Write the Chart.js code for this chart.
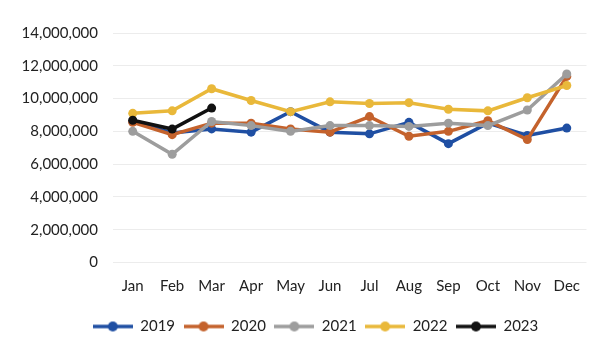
<!DOCTYPE html>
<html>
<head>
<meta charset="utf-8">
<script src="https://cdn.jsdelivr.net/npm/chart.js@4"></script>
<style>
  html, body { margin: 0; padding: 0; background: #fff; }
  #wrap { width: 591px; height: 350px; position: relative; }
</style>
</head>
<body>
<div id="wrap"><canvas id="chart"></canvas></div>
<script>
// --- Data ---
const months = ['Jan', 'Feb', 'Mar', 'Apr', 'May', 'Jun', 'Jul', 'Aug', 'Sep', 'Oct', 'Nov', 'Dec'];
const yTicks = [0, 2000000, 4000000, 6000000, 8000000, 10000000, 12000000, 14000000];

const values2019 = [8600000, 7900000, 8150000, 7950000, 9200000, 7950000, 7850000, 8550000, 7250000, 8500000, 7750000, 8200000];
const values2020 = [8550000, 7800000, 8500000, 8500000, 8150000, 7950000, 8900000, 7700000, 8000000, 8650000, 7500000, 11350000];
const values2021 = [8000000, 6600000, 8600000, 8350000, 8000000, 8350000, 8350000, 8300000, 8500000, 8350000, 9300000, 11500000];
const values2022 = [9100000, 9250000, 10600000, 9880000, 9200000, 9800000, 9700000, 9750000, 9350000, 9250000, 10050000, 10800000];
const values2023 = [8680000, 8140000, 9420000];

const seriesNames = ['2019', '2020', '2021', '2022', '2023'];
const seriesValues = [values2019, values2020, values2021, values2022, values2023];
const seriesColors = ['#1f4fa3', '#c4622c', '#9d9d9d', '#e9b83a', '#111111'];

// legend swatch: line with a dot in the middle, like Excel
function legendMark(color) {
    const c = document.createElement('canvas');
    c.width = 40;
    c.height = 12;
    const g = c.getContext('2d');
    g.strokeStyle = color;
    g.lineWidth = 3.5;
    g.beginPath();
    g.moveTo(0, 6);
    g.lineTo(40, 6);
    g.stroke();
    g.fillStyle = color;
    g.beginPath();
    g.arc(20, 6, 5, 0, Math.PI * 2);
    g.fill();
    return c;
}

// nudge the legend a bit to the right, the way it sits in the original
const legendShift = {
    id: 'legendShift',
    afterLayout(chart) {
        if (chart.legend) {
            chart.legend.left += 20;
            chart.legend.right += 20;
        }
    }
};

const datasets = seriesNames.map((name, i) => ({
    label: name,
    data: seriesValues[i],
    borderColor: seriesColors[i],
    backgroundColor: seriesColors[i],
    borderWidth: 3.5,
    pointRadius: 4.5,
    pointHoverRadius: 4.5,
    pointBorderWidth: 0,
    tension: 0,
    order: seriesNames.length - i   // later years drawn on top
}));

const textFont = { family: 'Lato', size: 15 };

new Chart(document.getElementById('chart'), {
    type: 'line',
    data: { labels: months, datasets: datasets },
    plugins: [legendShift],
    options: {
        responsive: true,
        maintainAspectRatio: false,
        animation: false,
        layout: { padding: { left: 0, right: 0, top: 33, bottom: 6 } },
        plugins: {
            tooltip: { enabled: false },
            legend: {
                position: 'bottom',
                labels: {
                    font: textFont,
                    color: '#222',
                    usePointStyle: true,
                    pointStyleWidth: 40,
                    padding: 8.5,
                    sort: (a, b) => a.datasetIndex - b.datasetIndex,
                    generateLabels: (chart) => {
                        const items = Chart.defaults.plugins.legend.labels.generateLabels(chart);
                        items.forEach(item => {
                            item.pointStyle = legendMark(seriesColors[item.datasetIndex]);
                        });
                        return items;
                    }
                }
            }
        },
        scales: {
            x: {
                offset: true,
                afterFit: (scale) => { scale.paddingLeft = 0; scale.paddingRight = 0; },
                grid: { display: false, drawTicks: false },
                border: { display: false },
                ticks: { font: textFont, color: '#222', padding: 15, maxRotation: 0 }
            },
            y: {
                min: 0,
                max: 14000000,
                afterFit: (scale) => { scale.width = 113; },
                afterBuildTicks: (scale) => { scale.ticks = yTicks.map(v => ({ value: v })); },
                grid: { color: '#ececec', lineWidth: 1, drawTicks: false },
                border: { display: false },
                ticks: {
                    font: textFont,
                    color: '#222',
                    padding: 15,
                    callback: (v) => v.toLocaleString('en-US')
                }
            }
        }
    }
});
</script>
</body>
</html>
